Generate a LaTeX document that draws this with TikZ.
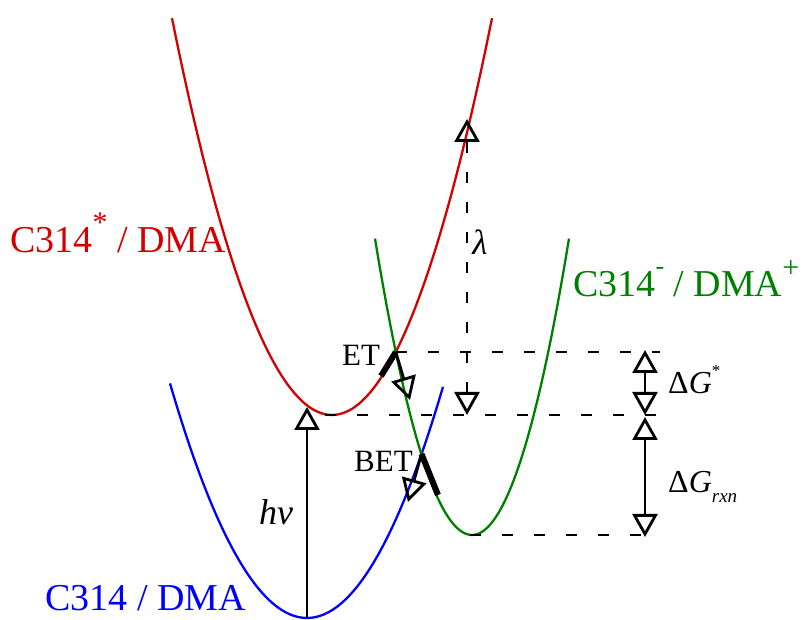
\documentclass[tikz,border=0pt]{standalone}
\usepackage{fontspec}
\setmainfont{Liberation Serif}
\usetikzlibrary{arrows.meta}
\definecolor{cred}{RGB}{210,0,0}
\definecolor{cgreen}{RGB}{0,128,0}
\definecolor{cblue}{RGB}{0,0,255}
\begin{document}
\begin{tikzpicture}[x=1pt,y=-1pt,
  pcurve/.style={line width=2.3pt},
  dsh/.style={line width=2.4pt,dash pattern=on 11pt off 21pt},
  otri/.tip={Triangle[open,length=23pt,width=25pt,line width=2.8pt]},
  shaft/.style={line width=2.8pt},
  thk/.style={line width=6pt},
  big/.style={font=\fontsize{38}{42}\selectfont},
  mid/.style={font=\fontsize{31}{34}\selectfont},
  sml/.style={font=\fontsize{32}{36}\selectfont}]
\useasboundingbox (0,0) rectangle (807,620);
% potential curves (parabolas as Bezier segments)
\draw[pcurve,cred] (172,18.2) .. controls (225.33,282.73) and (278.67,415) .. (332,415)
   .. controls (385.33,415) and (438.67,282.73) .. (492,18.2);
\draw[pcurve,cblue] (170,383.4) .. controls (215.67,539.8) and (261.33,618) .. (307,618)
   .. controls (352.33,618) and (397.67,540.93) .. (443,386.8);
\draw[pcurve,cgreen] (375,238.6) .. controls (407.33,436.2) and (439.67,535) .. (472,535)
   .. controls (504.33,535) and (536.67,436.2) .. (569,238.6);
% key points
\coordinate (etx) at (395.8,352);
\coordinate (betx) at (421.5,454);
\coordinate (rv) at (325,415);
\coordinate (gv) at (470,535);
\coordinate (bv) at (307,618);
\coordinate (hvtip) at (307,407);
\coordinate (etend) at (660,352);
\coordinate (rvend) at (660,415);
\coordinate (gvend) at (662,535);
% dashed levels
\draw[dsh] (etx) -- (etend);
\draw[dsh] (rv) -- (rvend);
\draw[dsh] (gv) -- (gvend);
% h nu
\draw[shaft,-otri] (bv) -- (hvtip);
\node[font=\fontsize{36}{40}\selectfont\itshape,anchor=base] (hnu) at (276,525) {hν};
% lambda
\coordinate (lt) at (467,119);
\coordinate (lb) at (467,415);
\draw[shaft,dash pattern=on 11pt off 19pt,otri-otri] (lb) -- (lt);
\node[font=\fontsize{35}{40}\selectfont\itshape,anchor=base] (lam) at (480,255) {λ};
% Delta G
\coordinate (g1) at (645,350);
\coordinate (g2) at (645,415);
\coordinate (g3) at (645,417);
\coordinate (g4) at (645,537);
\draw[shaft,otri-otri] (g2) -- (g1);
\draw[shaft,otri-otri] (g4) -- (g3);
\node[sml,anchor=base west,inner sep=0pt] (dgs) at (668,394) {Δ\textit{G}\raisebox{0.55em}{\fontsize{17}{18}\selectfont *}};
\node[sml,anchor=base west,inner sep=0pt] (dgr) at (668,493) {Δ\textit{G}\raisebox{-0.3em}{\fontsize{19}{20}\selectfont\itshape rxn}};
% ET
\coordinate (eta) at (381,376);
\coordinate (ettip) at (410,400);
\draw[thk] (eta) -- (etx);
\draw[shaft,-otri] (etx) -- (ettip);
\node[mid,anchor=base west,inner sep=0pt] (etl) at (342,366) {ET};
% BET
\coordinate (betb) at (438,495);
\coordinate (bettip) at (408,502);
\draw[thk] (betx) -- (betb);
\draw[shaft,-otri] (betx) -- (bettip);
\node[mid,anchor=base west,inner sep=0pt] (betl) at (354,472) {BET};
% state labels
\node[big,cred,anchor=base west,inner sep=0pt] (lred) at (10,253) {C314\raisebox{0.55em}{\fontsize{30}{32}\selectfont *} / DMA};
\node[big,cgreen,anchor=base west,inner sep=0pt] (lgreen) at (573,297) {C314\raisebox{0.6em}{\fontsize{26}{28}\selectfont -} / DMA\raisebox{0.5em}{\fontsize{30}{32}\selectfont +}};
\node[big,cblue,anchor=base west,inner sep=0pt] (lblue) at (45,611) {C314 / DMA};
\end{tikzpicture}
\end{document}
